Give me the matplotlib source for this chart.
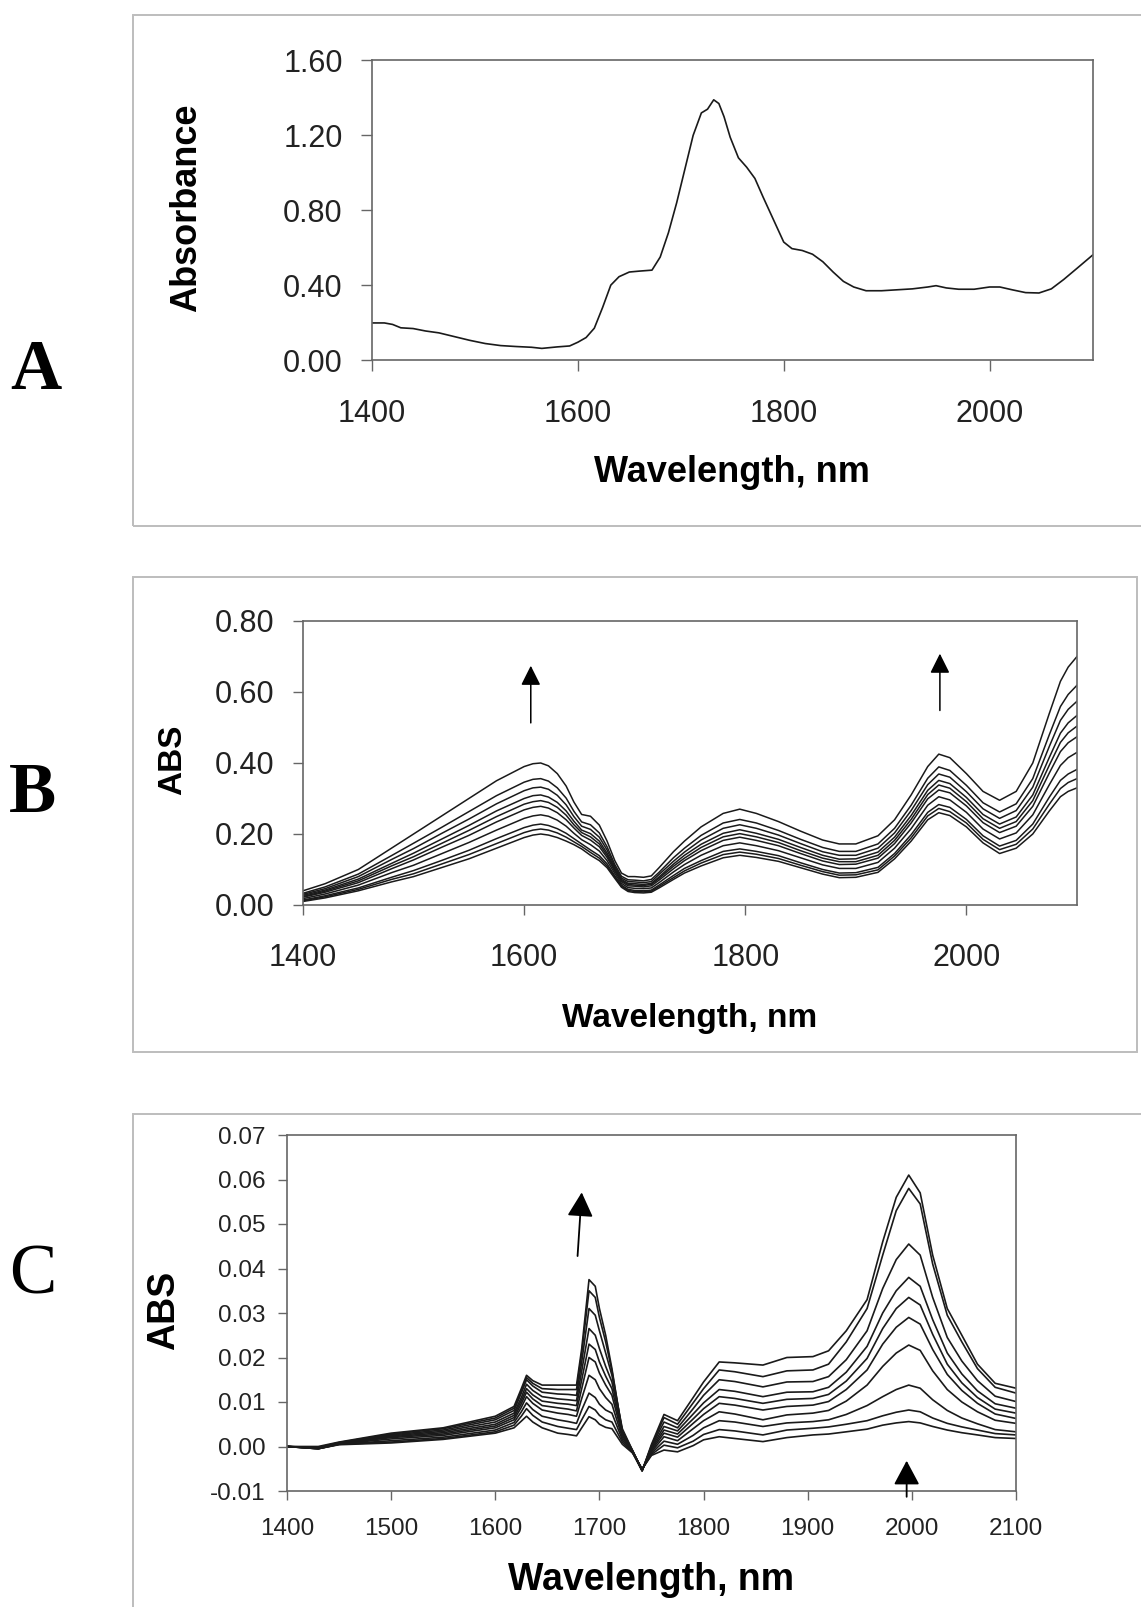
import numpy as np
import matplotlib
matplotlib.use("Agg")
import matplotlib.pyplot as plt
from matplotlib.patches import Rectangle

plt.rcParams['font.family'] = ['Liberation Sans', 'DejaVu Sans']

# ---------------- Panel A data ----------------
A_wl = [1400, 1412, 1420, 1428, 1440, 1452, 1465, 1480, 1495, 1510, 1525, 1540, 1555, 1565,
        1580, 1592, 1600, 1608, 1616, 1624, 1632, 1640, 1650, 1660, 1672, 1680, 1688, 1696,
        1704, 1712, 1720, 1726, 1732, 1737, 1742, 1748, 1756, 1764, 1772, 1780, 1790, 1800,
        1808, 1818, 1828, 1838, 1848, 1858, 1868, 1880, 1895, 1910, 1925, 1940, 1948, 1958,
        1970, 1985, 2000, 2010, 2022, 2035, 2048, 2060, 2072, 2085, 2100]
A_abs = [0.198, 0.198, 0.19, 0.172, 0.168, 0.155, 0.145, 0.125, 0.105, 0.088, 0.077, 0.072,
         0.068, 0.062, 0.07, 0.075, 0.095, 0.12, 0.17, 0.28, 0.40, 0.445, 0.47, 0.475, 0.48,
         0.55, 0.68, 0.84, 1.02, 1.20, 1.32, 1.34, 1.39, 1.37, 1.30, 1.19, 1.08, 1.03, 0.97,
         0.87, 0.75, 0.63, 0.595, 0.585, 0.565, 0.525, 0.47, 0.42, 0.39, 0.37, 0.37, 0.375,
         0.38, 0.39, 0.397, 0.385, 0.378, 0.378, 0.39, 0.39, 0.375, 0.36, 0.358, 0.38, 0.43,
         0.49, 0.56]
A_yticks = [0.0, 0.4, 0.8, 1.2, 1.6]
A_xticks = [1400, 1600, 1800, 2000]

# ---------------- Panel B data (rows: wavelength, columns: 10 spectra) ----------------
B_wl = [1400, 1420, 1450, 1480, 1500, 1525, 1550, 1575, 1600, 1608, 1615, 1622, 1630, 1638,
        1645, 1652, 1660, 1668, 1675, 1682, 1688, 1694, 1700, 1708, 1715, 1722, 1735, 1745,
        1760, 1780, 1795, 1810, 1830, 1850, 1870, 1885, 1900, 1920, 1935, 1950, 1965, 1975,
        1985, 2000, 2015, 2030, 2045, 2060, 2075, 2085, 2092, 2100]
B_abs = [
    [.040, .033, .030, .027, .024, .022, .018, .014, .012, .010],
    [.060, .051, .046, .042, .039, .036, .031, .026, .023, .020],
    [.100, .087, .080, .073, .068, .063, .056, .048, .044, .040],
    [.160, .139, .128, .117, .110, .102, .091, .078, .072, .065],
    [.200, .174, .159, .146, .136, .127, .112, .097, .088, .080],
    [.250, .218, .201, .185, .173, .162, .144, .125, .115, .105],
    [.300, .263, .242, .224, .210, .196, .176, .154, .142, .130],
    [.350, .308, .285, .265, .249, .234, .211, .187, .173, .160],
    [.390, .346, .322, .300, .284, .268, .244, .218, .204, .190],
    [.398, .354, .330, .308, .291, .275, .251, .225, .211, .197],
    [.400, .356, .332, .310, .294, .278, .254, .228, .214, .200],
    [.392, .349, .326, .304, .289, .273, .250, .224, .211, .197],
    [.370, .330, .309, .289, .275, .260, .239, .215, .203, .190],
    [.335, .301, .282, .265, .253, .240, .222, .202, .191, .180],
    [.290, .264, .249, .236, .226, .217, .202, .187, .178, .170],
    [.255, .234, .222, .211, .204, .196, .184, .172, .165, .158],
    [.250, .226, .213, .201, .192, .183, .170, .155, .148, .140],
    [.225, .203, .191, .180, .172, .164, .152, .139, .132, .125],
    [.180, .164, .155, .146, .140, .134, .125, .116, .110, .105],
    [.125, .114, .108, .103, .099, .095, .089, .082, .079, .075],
    [.090, .081, .076, .072, .069, .066, .061, .056, .053, .050],
    [.080, .071, .066, .061, .058, .054, .049, .044, .041, .038],
    [.080, .070, .065, .060, .056, .053, .047, .041, .038, .035],
    [.078, .068, .063, .058, .055, .051, .046, .040, .037, .034],
    [.082, .072, .066, .061, .058, .054, .048, .042, .039, .036],
    [.105, .092, .086, .079, .075, .070, .063, .056, .052, .048],
    [.150, .133, .123, .115, .109, .102, .093, .083, .077, .072],
    [.180, .160, .149, .140, .132, .125, .114, .103, .096, .090],
    [.220, .196, .183, .171, .162, .153, .140, .125, .118, .110],
    [.258, .231, .216, .202, .192, .182, .167, .151, .142, .133],
    [.270, .241, .226, .212, .201, .191, .175, .158, .149, .140],
    [.258, .231, .216, .202, .192, .182, .167, .151, .143, .134],
    [.235, .210, .197, .185, .176, .167, .153, .139, .131, .123],
    [.208, .185, .173, .162, .153, .145, .133, .119, .112, .105],
    [.183, .162, .150, .140, .132, .124, .113, .100, .094, .087],
    [.172, .151, .140, .129, .122, .114, .103, .090, .084, .077],
    [.172, .151, .140, .130, .122, .115, .103, .091, .085, .078],
    [.195, .172, .160, .149, .140, .132, .120, .106, .099, .092],
    [.240, .216, .203, .191, .182, .173, .160, .145, .138, .130],
    [.310, .281, .266, .252, .241, .231, .215, .198, .189, .180],
    [.390, .357, .339, .323, .311, .299, .281, .261, .251, .240],
    [.425, .389, .369, .351, .338, .324, .305, .283, .272, .260],
    [.415, .379, .360, .342, .329, .316, .296, .275, .263, .252],
    [.370, .337, .319, .303, .291, .279, .261, .241, .231, .220],
    [.320, .288, .271, .255, .243, .232, .214, .195, .185, .175],
    [.295, .262, .244, .228, .216, .204, .186, .166, .156, .145],
    [.320, .285, .266, .248, .235, .222, .203, .182, .171, .160],
    [.400, .356, .332, .310, .294, .278, .254, .228, .214, .200],
    [.540, .480, .447, .416, .394, .372, .339, .304, .284, .265],
    [.630, .559, .520, .484, .458, .432, .393, .351, .328, .305],
    [.670, .593, .551, .513, .485, .457, .415, .369, .345, .320],
    [.700, .619, .574, .534, .504, .474, .430, .382, .356, .330],
]
B_yticks = [0.0, 0.2, 0.4, 0.6, 0.8]
B_xticks = [1400, 1600, 1800, 2000]

# ---------------- Panel C data (rows: wavelength, columns: 10 spectra) ----------------
C_wl = [1400, 1430, 1450, 1500, 1550, 1600, 1618, 1625, 1630, 1636, 1645, 1660, 1670, 1678,
        1683, 1690, 1696, 1700, 1706, 1712, 1722, 1732, 1741, 1750, 1762, 1775, 1790, 1800,
        1815, 1830, 1857, 1880, 1905, 1920, 1937, 1957, 1972, 1985, 1997, 2008, 2020, 2034,
        2048, 2063, 2080, 2100]
C_abs = [
    [0.0, 0.0, 0.0, 0.0, 0.0, 0.0, 0.0, 0.0, 0.0, 0.0],
    [0.0, -0.0002, -0.0003, -0.0003, -0.0004, -0.0004, -0.0005, -0.0005, -0.0005, -0.0005],
    [0.0010, 0.0009, 0.0008, 0.0008, 0.0007, 0.0007, 0.0006, 0.0005, 0.0005, 0.0004],
    [0.0030, 0.0028, 0.0026, 0.0024, 0.0022, 0.0020, 0.0017, 0.0013, 0.0010, 0.0008],
    [0.0042, 0.0040, 0.0037, 0.0034, 0.0031, 0.0028, 0.0025, 0.0021, 0.0018, 0.0016],
    [0.0068, 0.0064, 0.0060, 0.0055, 0.0050, 0.0046, 0.0042, 0.0037, 0.0033, 0.0030],
    [0.0090, 0.0086, 0.0081, 0.0075, 0.0070, 0.0065, 0.0060, 0.0054, 0.0048, 0.0042],
    [0.0130, 0.0125, 0.0120, 0.0110, 0.0103, 0.0096, 0.0088, 0.0078, 0.0068, 0.0057],
    [0.0160, 0.0155, 0.0150, 0.0140, 0.0130, 0.0122, 0.0112, 0.0098, 0.0085, 0.0068],
    [0.0148, 0.0142, 0.0136, 0.0126, 0.0116, 0.0107, 0.0097, 0.0083, 0.0070, 0.0055],
    [0.0138, 0.0130, 0.0122, 0.0112, 0.0102, 0.0092, 0.0082, 0.0068, 0.0055, 0.0042],
    [0.0138, 0.0128, 0.0118, 0.0107, 0.0097, 0.0087, 0.0075, 0.0060, 0.0045, 0.0030],
    [0.0138, 0.0128, 0.0117, 0.0105, 0.0095, 0.0084, 0.0072, 0.0056, 0.0041, 0.0027],
    [0.0138, 0.0128, 0.0115, 0.0103, 0.0092, 0.0080, 0.0068, 0.0052, 0.0038, 0.0024],
    [0.0220, 0.0210, 0.0190, 0.0170, 0.0150, 0.0130, 0.0108, 0.0082, 0.0060, 0.0042],
    [0.0375, 0.0350, 0.0310, 0.0265, 0.0230, 0.0200, 0.0160, 0.0120, 0.0090, 0.0067],
    [0.0360, 0.0335, 0.0295, 0.0250, 0.0218, 0.0190, 0.0150, 0.0110, 0.0082, 0.0060],
    [0.0310, 0.0290, 0.0260, 0.0220, 0.0190, 0.0165, 0.0130, 0.0095, 0.0070, 0.0050],
    [0.0250, 0.0235, 0.0210, 0.0180, 0.0158, 0.0138, 0.0110, 0.0082, 0.0060, 0.0043],
    [0.0175, 0.0170, 0.0160, 0.0145, 0.0130, 0.0115, 0.0095, 0.0075, 0.0055, 0.0040],
    [0.0030, 0.0035, 0.0040, 0.0035, 0.0030, 0.0025, 0.0020, 0.0015, 0.0010, 0.0005],
    [-0.0015, -0.0012, -0.0010, -0.0010, -0.0010, -0.0012, -0.0012, -0.0013, -0.0014, -0.0015],
    [-0.0055, -0.0055, -0.0054, -0.0054, -0.0053, -0.0053, -0.0052, -0.0052, -0.0051, -0.0050],
    [0.0005, 0.0002, 0.0, -0.0003, -0.0006, -0.0009, -0.0012, -0.0015, -0.0018, -0.0020],
    [0.0072, 0.0065, 0.0055, 0.0045, 0.0037, 0.0030, 0.0022, 0.0012, 0.0003, -0.0008],
    [0.0058, 0.0050, 0.0042, 0.0035, 0.0028, 0.0021, 0.0013, 0.0005, -0.0003, -0.0012],
    [0.0110, 0.0098, 0.0085, 0.0073, 0.0062, 0.0052, 0.0040, 0.0025, 0.0012, 0.0002],
    [0.0145, 0.0130, 0.0115, 0.0098, 0.0085, 0.0072, 0.0058, 0.0042, 0.0027, 0.0015],
    [0.0190, 0.0172, 0.0150, 0.0128, 0.0112, 0.0097, 0.0078, 0.0058, 0.0038, 0.0022],
    [0.0188, 0.0168, 0.0146, 0.0124, 0.0108, 0.0093, 0.0073, 0.0055, 0.0035, 0.0018],
    [0.0183, 0.0157, 0.0134, 0.0112, 0.0097, 0.0082, 0.0060, 0.0045, 0.0026, 0.0011],
    [0.0200, 0.0170, 0.0145, 0.0122, 0.0106, 0.0090, 0.0071, 0.0053, 0.0037, 0.0020],
    [0.0202, 0.0172, 0.0146, 0.0123, 0.0108, 0.0093, 0.0075, 0.0056, 0.0041, 0.0026],
    [0.0215, 0.0185, 0.0157, 0.0133, 0.0117, 0.0101, 0.0081, 0.0060, 0.0044, 0.0028],
    [0.0260, 0.0235, 0.0195, 0.0167, 0.0147, 0.0128, 0.0102, 0.0072, 0.0050, 0.0033],
    [0.0330, 0.0310, 0.0260, 0.0225, 0.0198, 0.0172, 0.0138, 0.0092, 0.0058, 0.0039],
    [0.0460, 0.0430, 0.0355, 0.0300, 0.0265, 0.0230, 0.0180, 0.0112, 0.0069, 0.0048],
    [0.0560, 0.0530, 0.0420, 0.0350, 0.0310, 0.0268, 0.0210, 0.0128, 0.0077, 0.0053],
    [0.0610, 0.0580, 0.0455, 0.0380, 0.0335, 0.0290, 0.0228, 0.0138, 0.0082, 0.0056],
    [0.0570, 0.0545, 0.0430, 0.0360, 0.0318, 0.0275, 0.0216, 0.0131, 0.0078, 0.0053],
    [0.0430, 0.0410, 0.0335, 0.0285, 0.0252, 0.0218, 0.0170, 0.0105, 0.0064, 0.0045],
    [0.0310, 0.0295, 0.0245, 0.0210, 0.0185, 0.0162, 0.0128, 0.0081, 0.0052, 0.0037],
    [0.0250, 0.0235, 0.0192, 0.0163, 0.0143, 0.0126, 0.0100, 0.0064, 0.0044, 0.0031],
    [0.0185, 0.0175, 0.0148, 0.0125, 0.0110, 0.0097, 0.0078, 0.0051, 0.0037, 0.0026],
    [0.0142, 0.0133, 0.0113, 0.0096, 0.0084, 0.0073, 0.0059, 0.0038, 0.0029, 0.0020],
    [0.0131, 0.0120, 0.0101, 0.0086, 0.0075, 0.0063, 0.0052, 0.0033, 0.0026, 0.0018],
]
C_yticks = [-0.01, 0.0, 0.01, 0.02, 0.03, 0.04, 0.05, 0.06, 0.07]
C_xticks = [1400, 1500, 1600, 1700, 1800, 1900, 2000, 2100]

# ---------------- layout helpers ----------------
W, H = 1141, 1607
fig = plt.figure(figsize=(W / 100, H / 100), dpi=100)
fig.patch.set_facecolor('white')


def rect(l, t, r, b):
    return [l / W, 1 - b / H, (r - l) / W, (b - t) / H]


def fxy(x, y):
    return x / W, 1 - y / H


SPINE = '#666666'
LINE = '#1a1a1a'
FRAME = '#bdbdbd'


def frame(l, t, r, b):
    fig.patches.append(Rectangle((l / W, 1 - b / H), (r - l) / W, (b - t) / H,
                                 transform=fig.transFigure, fill=False,
                                 edgecolor=FRAME, lw=1.4))


def style_axes(ax, xt, yt, fmt, labelsize, ticklen, xpad, ypad):
    for s in ax.spines.values():
        s.set_color(SPINE)
        s.set_linewidth(1.2)
    ax.set_xticks(xt)
    ax.set_yticks(yt)
    ax.set_yticklabels([fmt.format(v) for v in yt])
    ax.set_xticklabels([str(v) for v in xt])
    ax.tick_params(direction='out', length=ticklen, width=1.0, color=SPINE,
                   labelsize=labelsize, labelcolor='#222222')
    ax.tick_params(axis='x', pad=xpad)
    ax.tick_params(axis='y', pad=ypad)


# ---------------- Panel A ----------------
frame(133, 15, 1160, 526)
axA = fig.add_axes(rect(372, 60.5, 1092.5, 360))
axA.plot(A_wl, A_abs, color=LINE, lw=1.2)
axA.set_xlim(1400, 2100)
axA.set_ylim(0, 1.6)
style_axes(axA, A_xticks, A_yticks, '{:.2f}', 22, 8, 20, 13)
fig.text(*fxy(187, 208), 'Absorbance', rotation=90, ha='center', va='center',
         fontsize=26, fontweight='bold')
fig.text(*fxy(732, 482), 'Wavelength, nm', ha='center', va='baseline',
         fontsize=26, fontweight='bold')
fig.text(*fxy(36, 389), 'A', ha='center', va='baseline', fontsize=51,
         fontweight='bold', family=['Liberation Serif', 'DejaVu Serif'])

# ---------------- Panel B ----------------
frame(133, 577, 1137, 1052)
axB = fig.add_axes(rect(303, 621, 1077, 905))
B_arr = np.array(B_abs)
for k in range(B_arr.shape[1]):
    axB.plot(B_wl, B_arr[:, k], color=LINE, lw=1.1)
axB.set_xlim(1400, 2100)
axB.set_ylim(0, 0.8)
style_axes(axB, B_xticks, B_yticks, '{:.2f}', 22, 7.5, 20, 13)
for (x0, y0, y1) in [(1606, 0.513, 0.674), (1976, 0.548, 0.708)]:
    axB.annotate('', xy=(x0, y1), xytext=(x0, y0),
                 arrowprops=dict(arrowstyle='-|>,head_width=0.3,head_length=0.6',
                                 color='black', lw=1.1, shrinkA=0, shrinkB=0,
                                 mutation_scale=20))
fig.text(*fxy(173, 760), 'ABS', rotation=90, ha='center', va='center',
         fontsize=24, fontweight='bold')
fig.text(*fxy(690, 1027), 'Wavelength, nm', ha='center', va='baseline',
         fontsize=24, fontweight='bold')
fig.text(*fxy(33, 812), 'B', ha='center', va='baseline', fontsize=51,
         fontweight='bold', family=['Liberation Serif', 'DejaVu Serif'])

# ---------------- Panel C ----------------
frame(133, 1114, 1160, 1640)
axC = fig.add_axes(rect(287, 1135, 1016, 1491))
C_arr = np.array(C_abs)
for k in range(C_arr.shape[1]):
    axC.plot(C_wl, C_arr[:, k], color=LINE, lw=1.2)
axC.set_xlim(1400, 2100)
axC.set_ylim(-0.01, 0.07)
style_axes(axC, C_xticks, C_yticks, '{:.2f}', 17.5, 6.5, 13, 9)
axC.annotate('', xy=(1683, 0.0571), xytext=(1679, 0.0428),
             arrowprops=dict(arrowstyle='-|>,head_width=0.4,head_length=0.75',
                             color='black', lw=1.3, shrinkA=0, shrinkB=0,
                             mutation_scale=20))
axC.annotate('', xy=(1995, -0.0032), xytext=(1995, -0.0113), annotation_clip=False,
             arrowprops=dict(arrowstyle='-|>,head_width=0.4,head_length=0.75',
                             color='black', lw=1.3, shrinkA=0, shrinkB=0,
                             mutation_scale=20))
fig.text(*fxy(164, 1310), 'ABS', rotation=90, ha='center', va='center',
         fontsize=27, fontweight='bold')
fig.text(*fxy(651, 1590), 'Wavelength, nm', ha='center', va='baseline',
         fontsize=27, fontweight='bold')
fig.text(*fxy(33, 1293), 'C', ha='center', va='baseline', fontsize=51,
         family=['Liberation Serif', 'DejaVu Serif'])

fig.savefig('out.png', dpi=100, facecolor='white')
